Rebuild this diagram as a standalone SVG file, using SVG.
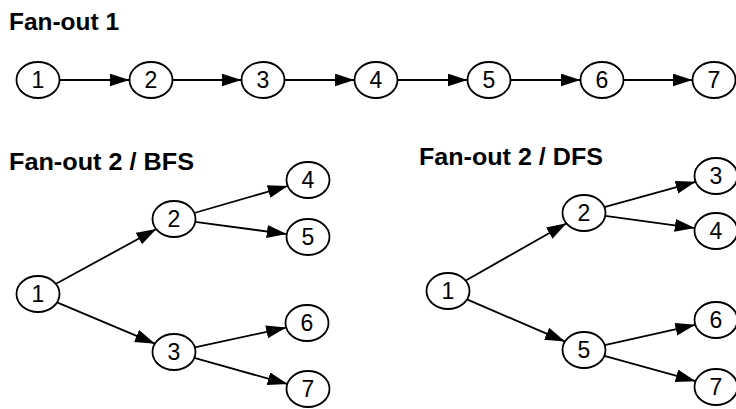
<svg xmlns="http://www.w3.org/2000/svg" width="736" height="409" viewBox="0 0 736 409">
<defs>
<style>
.n ellipse{fill:#fff;stroke:#000;stroke-width:1.8}
.n text{font-family:"Liberation Sans",Arial,sans-serif;font-size:23px;text-anchor:middle;fill:#000}
.t{font-family:"Liberation Sans",Arial,sans-serif;font-size:23.5px;font-weight:bold;fill:#000}
.e line{stroke:#000;stroke-width:1.8;marker-end:url(#ah)}
</style>
<marker id="ah" markerUnits="userSpaceOnUse" markerWidth="21" markerHeight="14" refX="20" refY="6.5" orient="auto">
<path d="M0,0 L20,6.5 L0,13 z" fill="#000"/>
</marker>
</defs>
<rect width="736" height="409" fill="#fff"/>
<text class="t" x="9" y="30" textLength="110" lengthAdjust="spacingAndGlyphs">Fan-out 1</text>
<text class="t" x="9" y="170" textLength="185" lengthAdjust="spacingAndGlyphs">Fan-out 2 / BFS</text>
<text class="t" x="419" y="165" textLength="184" lengthAdjust="spacingAndGlyphs">Fan-out 2 / DFS</text>
<g id="connectors" class="e">
<line x1="59.5" y1="80" x2="129.5" y2="80"/>
<line x1="172.5" y1="80" x2="241.5" y2="80"/>
<line x1="284.5" y1="80" x2="354.5" y2="80"/>
<line x1="397.5" y1="80" x2="467.5" y2="80"/>
<line x1="510.5" y1="80" x2="580.5" y2="80"/>
<line x1="623.5" y1="80" x2="692.5" y2="80"/>
<line x1="55.6" y1="284.0" x2="156.4" y2="229.0"/>
<line x1="57" y1="302.3" x2="155" y2="343.7"/>
<line x1="194.2" y1="213.0" x2="287.8" y2="186.0"/>
<line x1="195.2" y1="221.9" x2="286.8" y2="234.1"/>
<line x1="194.8" y1="347.4" x2="286.2" y2="327.6"/>
<line x1="194.3" y1="357.9" x2="287.7" y2="384.1"/>
<line x1="465.4" y1="280.7" x2="566.6" y2="223.3"/>
<line x1="467" y1="299.4" x2="565" y2="341.6"/>
<line x1="604.3" y1="207.2" x2="695.7" y2="181.8"/>
<line x1="605.2" y1="215.9" x2="694.8" y2="228.1"/>
<line x1="604.7" y1="345.2" x2="695.3" y2="324.8"/>
<line x1="604.3" y1="355.8" x2="695.7" y2="381.2"/>
</g>
<g id="a1" class="n"><ellipse cx="38" cy="80" rx="21.5" ry="18"/><text x="38" y="88">1</text></g>
<g id="a2" class="n"><ellipse cx="151" cy="80" rx="21.5" ry="18"/><text x="151" y="88">2</text></g>
<g id="a3" class="n"><ellipse cx="263" cy="80" rx="21.5" ry="18"/><text x="263" y="88">3</text></g>
<g id="a4" class="n"><ellipse cx="376" cy="80" rx="21.5" ry="18"/><text x="376" y="88">4</text></g>
<g id="a5" class="n"><ellipse cx="489" cy="80" rx="21.5" ry="18"/><text x="489" y="88">5</text></g>
<g id="a6" class="n"><ellipse cx="602" cy="80" rx="21.5" ry="18"/><text x="602" y="88">6</text></g>
<g id="a7" class="n"><ellipse cx="714" cy="80" rx="21.5" ry="18"/><text x="714" y="88">7</text></g>
<g id="b1" class="n"><ellipse cx="38" cy="294" rx="21.5" ry="18"/><text x="38" y="302">1</text></g>
<g id="b2" class="n"><ellipse cx="174" cy="219" rx="21.5" ry="18"/><text x="174" y="227">2</text></g>
<g id="b3" class="n"><ellipse cx="174" cy="352" rx="21.5" ry="18"/><text x="174" y="360">3</text></g>
<g id="b4" class="n"><ellipse cx="308" cy="180" rx="21.5" ry="18"/><text x="308" y="188">4</text></g>
<g id="b5" class="n"><ellipse cx="308" cy="237" rx="21.5" ry="18"/><text x="308" y="245">5</text></g>
<g id="b6" class="n"><ellipse cx="307" cy="323" rx="21.5" ry="18"/><text x="307" y="331">6</text></g>
<g id="b7" class="n"><ellipse cx="308" cy="389" rx="21.5" ry="18"/><text x="308" y="397">7</text></g>
<g id="d1" class="n"><ellipse cx="448" cy="291" rx="21.5" ry="18"/><text x="448" y="299">1</text></g>
<g id="d2" class="n"><ellipse cx="584" cy="213" rx="21.5" ry="18"/><text x="584" y="221">2</text></g>
<g id="d5" class="n"><ellipse cx="584" cy="350" rx="21.5" ry="18"/><text x="584" y="358">5</text></g>
<g id="d3" class="n"><ellipse cx="716" cy="176" rx="21.5" ry="18"/><text x="716" y="184">3</text></g>
<g id="d4" class="n"><ellipse cx="716" cy="231" rx="21.5" ry="18"/><text x="716" y="239">4</text></g>
<g id="d6" class="n"><ellipse cx="716" cy="320" rx="21.5" ry="18"/><text x="716" y="328">6</text></g>
<g id="d7" class="n"><ellipse cx="716" cy="387" rx="21.5" ry="18"/><text x="716" y="395">7</text></g>
</svg>
